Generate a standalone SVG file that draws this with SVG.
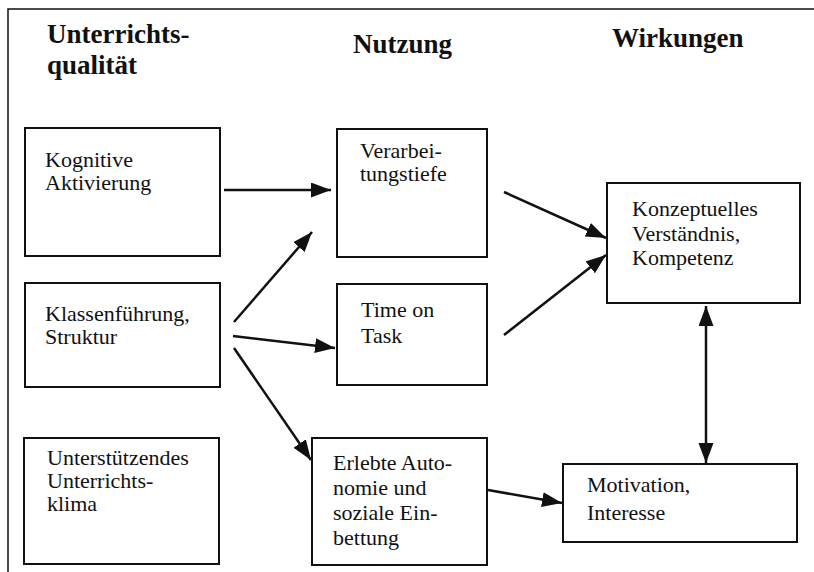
<svg xmlns="http://www.w3.org/2000/svg" width="814" height="572" viewBox="0 0 814 572">
  <style>
    .frame { stroke: #111; stroke-width: 1.5; fill: none; }
    .box { fill: #fff; stroke: #111; stroke-width: 2; }
    .label { font-family: 'Liberation Serif', 'Times New Roman', Times, 'DejaVu Serif', serif; font-size: 22px; fill: #111; }
    .head { font-family: 'Liberation Serif', 'Times New Roman', Times, 'DejaVu Serif', serif; font-size: 27px; font-weight: bold; fill: #111; }
    .edge { stroke: #111; stroke-width: 2.5; fill: none; marker-end: url(#arrow); }
  </style>
  <defs>
    <marker id="arrow" markerUnits="userSpaceOnUse" markerWidth="22" markerHeight="16" refX="20" refY="7.5" orient="auto-start-reverse">
      <path d="M0,0 L20,7.5 L0,15 z" fill="#111"/>
    </marker>
  </defs>

  <rect width="814" height="572" fill="#fff"/>
  <!-- page frame (open to the right and bottom) -->
  <path class="frame" d="M8,572 V9 H814"/>

  <!-- column headings -->
  <g id="headings">
    <text class="head" x="47" y="43">Unterrichts-</text>
    <text class="head" x="47" y="74">qualität</text>
    <text class="head" x="353" y="53">Nutzung</text>
    <text class="head" x="612" y="47">Wirkungen</text>
  </g>

  <g id="kognitive-aktivierung">
    <rect class="box" x="25" y="128" width="195" height="128"/>
    <text class="label" x="45" y="167">Kognitive</text>
    <text class="label" x="45" y="190">Aktivierung</text>
  </g>

  <g id="klassenfuehrung">
    <rect class="box" x="25" y="283" width="195" height="104"/>
    <text class="label" x="45" y="321">Klassenführung,</text>
    <text class="label" x="45" y="344">Struktur</text>
  </g>

  <g id="unterrichtsklima">
    <rect class="box" x="24" y="438" width="195" height="126"/>
    <text class="label" x="47" y="465">Unterstützendes</text>
    <text class="label" x="47" y="488">Unterrichts-</text>
    <text class="label" x="47" y="511">klima</text>
  </g>

  <g id="verarbeitungstiefe">
    <rect class="box" x="337" y="129" width="150" height="128"/>
    <text class="label" x="360" y="158">Verarbei-</text>
    <text class="label" x="360" y="181">tungstiefe</text>
  </g>

  <g id="time-on-task">
    <rect class="box" x="337" y="284" width="150" height="101"/>
    <text class="label" x="361" y="317">Time on</text>
    <text class="label" x="361" y="343">Task</text>
  </g>

  <g id="autonomie">
    <rect class="box" x="312" y="438" width="175" height="127"/>
    <text class="label" x="333" y="470">Erlebte Auto-</text>
    <text class="label" x="333" y="495">nomie und</text>
    <text class="label" x="333" y="520">soziale Ein-</text>
    <text class="label" x="333" y="545">bettung</text>
  </g>

  <g id="verstaendnis">
    <rect class="box" x="607" y="183" width="193" height="120"/>
    <text class="label" x="632" y="216">Konzeptuelles</text>
    <text class="label" x="632" y="241">Verständnis,</text>
    <text class="label" x="632" y="265">Kompetenz</text>
  </g>

  <g id="motivation">
    <rect class="box" x="563" y="464" width="234" height="78"/>
    <text class="label" x="587" y="492">Motivation,</text>
    <text class="label" x="587" y="520">Interesse</text>
  </g>

  <!-- connectors -->
  <g id="connectors">
    <line class="edge" x1="224" y1="190" x2="331" y2="190"/>
    <line class="edge" x1="234" y1="322" x2="312" y2="232"/>
    <line class="edge" x1="233" y1="336" x2="335" y2="348"/>
    <line class="edge" x1="234" y1="348" x2="311" y2="460"/>
    <line class="edge" x1="504" y1="192" x2="606" y2="238"/>
    <line class="edge" x1="504" y1="335" x2="606" y2="255"/>
    <line class="edge" x1="706" y1="306" x2="706" y2="463" marker-start="url(#arrow)"/>
    <line class="edge" x1="488" y1="490" x2="562" y2="503"/>
  </g>
</svg>
